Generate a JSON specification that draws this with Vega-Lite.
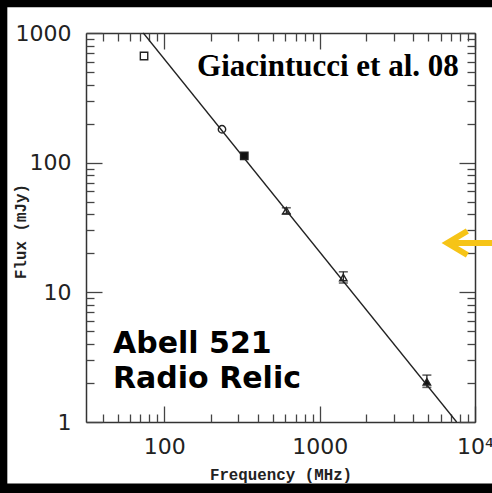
{
  "$schema": "https://vega.github.io/schema/vega-lite/v6.json",
  "width": 389,
  "height": 389,
  "autosize": {"type": "none"},
  "padding": {"left": 86, "top": 33, "right": 17, "bottom": 71},
  "background": "white",
  "datasets": {
    "frame": [
      {"x1": 1, "x2": 9.75, "y1": 0.001, "y2": 100000},
      {"x1": 1, "x2": 1000000, "y1": 1578, "y2": 100000},
      {"x1": 1, "x2": 1000000, "y1": 0.001, "y2": 0.335}
    ],
    "fit": [
      {"nu": 73.2, "flux": 1000},
      {"nu": 7620, "flux": 1}
    ],
    "relic": [
      {"nu": 74, "flux": 665, "band": "74 MHz"},
      {"nu": 235, "flux": 181, "band": "235 MHz"},
      {"nu": 327, "flux": 113, "band": "327 MHz"},
      {"nu": 610, "flux": 42.6, "lo": 40.4, "hi": 44.9, "band": "610 MHz"},
      {"nu": 1420, "flux": 13.0, "lo": 11.8, "hi": 14.4, "band": "1.4 GHz"},
      {"nu": 4900, "flux": 2.04, "lo": 1.85, "hi": 2.30, "band": "4.9 GHz"}
    ],
    "ref": [
      {"nu": 162.4, "flux": 466, "label": "Giacintucci et al. 08"}
    ],
    "name": [
      {"nu": 46.7, "flux": 3.40, "label": "Abell 521"},
      {"nu": 46.7, "flux": 1.83, "label": "Radio Relic"}
    ],
    "arrowhead": [
      {"seq": 1, "nu": 8930, "flux": 29.7},
      {"seq": 2, "nu": 6640, "flux": 24.0},
      {"seq": 3, "nu": 8930, "flux": 19.4}
    ],
    "arrowbody": [
      {"nu": 6700, "nu2": 30000, "flux": 24.0}
    ]
  },
  "resolve": {
    "scale": {"x": "shared", "y": "shared"},
    "axis": {"x": "independent", "y": "independent"}
  },
  "layer": [
    {
      "data": {"name": "frame"},
      "mark": {"type": "rect", "fill": "black"},
      "encoding": {
        "x": {
          "field": "x1", "type": "quantitative",
          "scale": {"type": "log", "domain": [31.3, 10000], "nice": false},
          "axis": {
            "orient": "bottom", "values": [100, 1000, 10000], "ticks": false,
            "labelExpr": "datum.value == 10000 ? '10⁴' : '' + datum.value",
            "labelBaseline": "alphabetic", "labelPadding": 31,
            "title": "Frequency (MHz)", "titleY": 57, "titleBaseline": "alphabetic"
          }
        },
        "x2": {"field": "x2"},
        "y": {
          "field": "y1", "type": "quantitative",
          "scale": {"type": "log", "domain": [1, 1000], "nice": false},
          "axis": {
            "orient": "left", "values": [1, 10, 100, 1000], "ticks": false,
            "labelExpr": "'' + datum.value", "labelPadding": 15,
            "title": "Flux (mJy)", "titleX": -66, "titleY": 198,
            "titleBaseline": "middle", "titleAlign": "center"
          }
        },
        "y2": {"field": "y2"}
      }
    },
    {
      "data": {"name": "fit"},
      "mark": {"type": "line", "color": "#222", "strokeWidth": 1.3},
      "encoding": {
        "x": {
          "field": "nu", "type": "quantitative",
          "scale": {"type": "log", "domain": [31.3, 10000], "nice": false},
          "axis": {"orient": "bottom", "values": [100, 1000, 10000], "labels": false, "domain": false, "tickSize": -16, "title": null}
        },
        "y": {
          "field": "flux", "type": "quantitative",
          "scale": {"type": "log", "domain": [1, 1000], "nice": false},
          "axis": {"orient": "left", "values": [1, 10, 100, 1000], "labels": false, "domain": false, "tickSize": -16, "title": null}
        }
      }
    },
    {
      "data": {"name": "relic"},
      "mark": {"type": "errorbar", "color": "#222", "thickness": 1.3, "ticks": {"size": 9, "thickness": 1.6}},
      "encoding": {
        "x": {
          "field": "nu", "type": "quantitative",
          "scale": {"type": "log", "domain": [31.3, 10000], "nice": false},
          "axis": null
        },
        "y": {
          "field": "lo", "type": "quantitative",
          "scale": {"type": "log", "domain": [1, 1000], "nice": false},
          "axis": null
        },
        "y2": {"field": "hi"}
      }
    },
    {
      "data": {"name": "relic"},
      "mark": {"type": "point", "strokeWidth": 1.4, "opacity": 1},
      "encoding": {
        "x": {
          "field": "nu", "type": "quantitative",
          "scale": {"type": "log", "domain": [31.3, 10000], "nice": false},
          "axis": {"orient": "bottom", "values": [40, 50, 60, 70, 80, 90, 200, 300, 400, 500, 600, 700, 800, 900, 2000, 3000, 4000, 5000, 6000, 7000, 8000, 9000], "labels": false, "domain": false, "tickSize": -8, "title": null}
        },
        "y": {
          "field": "flux", "type": "quantitative",
          "scale": {"type": "log", "domain": [1, 1000], "nice": false},
          "axis": {"orient": "left", "values": [2, 3, 4, 5, 6, 7, 8, 9, 20, 30, 40, 50, 60, 70, 80, 90, 200, 300, 400, 500, 600, 700, 800, 900], "labels": false, "domain": false, "tickSize": -8, "title": null}
        },
        "shape": {
          "field": "band", "type": "nominal", "legend": null,
          "scale": {
            "domain": ["74 MHz", "235 MHz", "327 MHz", "610 MHz", "1.4 GHz", "4.9 GHz"],
            "range": ["square", "circle", "square", "triangle-up", "triangle-up", "triangle-up"]
          }
        },
        "fill": {
          "field": "band", "type": "nominal", "legend": null,
          "scale": {
            "domain": ["74 MHz", "235 MHz", "327 MHz", "610 MHz", "1.4 GHz", "4.9 GHz"],
            "range": ["white", "transparent", "#111", "transparent", "transparent", "#111"]
          }
        },
        "stroke": {"value": "#222"},
        "size": {"value": 55}
      }
    },
    {
      "data": {"name": "ref"},
      "mark": {"type": "text", "font": "Liberation Serif", "fontWeight": "bold", "fontSize": 31, "align": "left", "baseline": "alphabetic", "color": "black"},
      "encoding": {
        "x": {
          "field": "nu", "type": "quantitative",
          "scale": {"type": "log", "domain": [31.3, 10000], "nice": false},
          "axis": {"orient": "top", "values": [100, 1000, 10000], "labels": false, "domain": true, "tickSize": -16, "title": null}
        },
        "y": {
          "field": "flux", "type": "quantitative",
          "scale": {"type": "log", "domain": [1, 1000], "nice": false},
          "axis": {"orient": "right", "values": [1, 10, 100, 1000], "labels": false, "domain": true, "tickSize": -16, "title": null}
        },
        "text": {"field": "label"}
      }
    },
    {
      "data": {"name": "name"},
      "mark": {"type": "text", "font": "DejaVu Sans", "fontWeight": "bold", "fontSize": 30, "align": "left", "baseline": "alphabetic", "color": "black"},
      "encoding": {
        "x": {
          "field": "nu", "type": "quantitative",
          "scale": {"type": "log", "domain": [31.3, 10000], "nice": false},
          "axis": {"orient": "top", "values": [40, 50, 60, 70, 80, 90, 200, 300, 400, 500, 600, 700, 800, 900, 2000, 3000, 4000, 5000, 6000, 7000, 8000, 9000], "labels": false, "domain": false, "tickSize": -8, "title": null}
        },
        "y": {
          "field": "flux", "type": "quantitative",
          "scale": {"type": "log", "domain": [1, 1000], "nice": false},
          "axis": {"orient": "right", "values": [2, 3, 4, 5, 6, 7, 8, 9, 20, 30, 40, 50, 60, 70, 80, 90, 200, 300, 400, 500, 600, 700, 800, 900], "labels": false, "domain": false, "tickSize": -8, "title": null}
        },
        "text": {"field": "label"}
      }
    },
    {
      "data": {"name": "arrowbody"},
      "mark": {"type": "rule", "color": "#f6c417", "strokeWidth": 6, "strokeCap": "butt"},
      "encoding": {
        "x": {
          "field": "nu", "type": "quantitative",
          "scale": {"type": "log", "domain": [31.3, 10000], "nice": false},
          "axis": null
        },
        "x2": {"field": "nu2"},
        "y": {
          "field": "flux", "type": "quantitative",
          "scale": {"type": "log", "domain": [1, 1000], "nice": false},
          "axis": null
        }
      }
    },
    {
      "data": {"name": "arrowhead"},
      "mark": {"type": "line", "color": "#f6c417", "strokeWidth": 6, "strokeCap": "butt", "strokeJoin": "miter"},
      "encoding": {
        "x": {
          "field": "nu", "type": "quantitative",
          "scale": {"type": "log", "domain": [31.3, 10000], "nice": false},
          "axis": null
        },
        "y": {
          "field": "flux", "type": "quantitative",
          "scale": {"type": "log", "domain": [1, 1000], "nice": false},
          "axis": null
        },
        "order": {"field": "seq", "type": "quantitative"}
      }
    }
  ],
  "config": {
    "view": {"stroke": null},
    "axis": {
      "grid": false,
      "domainColor": "#333",
      "domainWidth": 1.5,
      "tickColor": "#444",
      "tickWidth": 1.3,
      "labelFont": "DejaVu Sans",
      "labelFontSize": 22,
      "labelColor": "#222",
      "labelFlush": false,
      "labelOverlap": false,
      "titleFont": "Liberation Mono",
      "titleFontSize": 15.8,
      "titleFontWeight": "bold",
      "titleColor": "#222"
    }
  }
}
